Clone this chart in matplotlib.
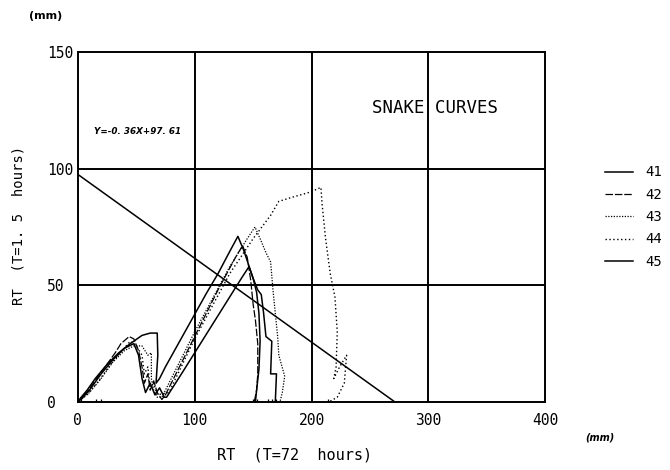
import numpy as np
import matplotlib.pyplot as plt
from matplotlib.lines import Line2D

# snake curves: RT(T=72h) vs RT(T=1.5h), both in mm
x41 = [0, 3, 8, 15, 25, 35, 45, 55, 62, 68, 68.5, 67, 70, 75, 80, 90, 100, 110, 120, 130, 137,
       142, 146, 150, 153, 155, 156, 155, 153, 152]
y41 = [0, 2, 5, 10, 16, 21, 25, 28.5, 29.5, 29.5, 20, 8, 10, 15, 19.5, 28.5, 37.5, 46.5, 55, 64.5, 71,
       65, 59, 53, 47, 38, 26, 14, 5, 0]

x42 = [0, 5, 12, 22, 32, 37, 44, 48, 52, 55, 57, 60, 62, 65, 68, 72, 75, 100, 120, 135, 141,
       145, 148, 150, 152, 154, 154, 153, 151]
y42 = [0, 2, 7, 14, 21, 25, 28, 27, 22, 15, 8, 12, 5, 9, 4, 1, 3, 28, 48, 62, 67,
       62, 52, 42, 35, 25, 12, 5, 0]

x43 = [0, 10, 20, 30, 40, 48, 55, 60, 63, 63, 65, 68, 72, 100, 130, 145, 151.6,
       156, 161, 165, 167, 169, 171, 172, 177, 175, 173]
y43 = [0, 4, 10, 17, 22, 24, 24, 20, 21, 10, 5, 2, 2, 30, 58, 70, 75,
       70, 64, 60, 48, 38, 28, 20, 11, 4, 0]

x44 = [0, 8, 18, 28, 38, 45, 50, 55, 57, 60, 62, 65, 68, 78, 100, 130, 150, 165, 172, 185, 199, 208,
       209, 212, 216, 220, 222, 221, 219, 224, 230, 228, 222, 215]
y44 = [0, 3, 9, 16, 22, 26, 24, 20, 12, 15, 6, 8, 3, 4, 27, 55, 70, 80, 86, 88, 90, 92,
       85, 70, 55, 45, 30, 15, 10, 15, 20, 8, 2, 0]

x45 = [0, 10, 20, 30, 40, 48, 52, 55, 58, 62, 66, 70, 74, 76, 90, 100, 120, 140, 146.5,
       150, 154, 157, 159, 161, 166, 165, 170, 169]
y45 = [0, 5, 12, 18, 23, 25, 20, 10, 4, 8, 3, 6, 2, 2, 13, 21, 37, 53, 58,
       53, 48, 46, 38, 28, 26, 12, 12, 0]

# ends of the measured sections, marked on the base line
end_marks = [3, 16, 20, 150, 153, 163, 166, 170, 214]

# regression of all points
slope, intercept = -0.36, 97.61

mono = 'DejaVu Sans Mono'

styles = {
    '41': dict(lw=1.1, ls='-'),
    '42': dict(lw=0.9, ls=(0, (6, 1.5))),
    '43': dict(lw=0.9, ls=(0, (1, 1.2))),
    '44': dict(lw=1.0, ls=(0, (1, 1.8))),
    '45': dict(lw=1.1, ls='-'),
}

fig = plt.figure(figsize=(6.7, 4.7), dpi=100)
ax = fig.add_axes([0.116, 0.145, 0.698, 0.744])

for name, xs, ys in [('41', x41, y41), ('42', x42, y42), ('43', x43, y43),
                     ('44', x44, y44), ('45', x45, y45)]:
    ax.plot(xs, ys, color='black', label=name, **styles[name])

ax.plot(end_marks, [0] * len(end_marks), ls='none', marker='|', ms=5, mew=0.9, color='black')

xr = np.array([0, -intercept / slope])
ax.plot(xr, slope * xr + intercept, color='black', lw=1.1)

for xv in [100, 200, 300]:
    ax.axvline(xv, color='black', lw=1.4)
for yv in [50, 100]:
    ax.axhline(yv, color='black', lw=1.4)

ax.set_xlim(0, 400)
ax.set_ylim(0, 150)
ax.set_xticks([0, 100, 200, 300, 400])
ax.set_yticks([0, 50, 100, 150])
ax.tick_params(length=0, labelsize=10.5)
ax.tick_params(axis='x', pad=8)
ax.tick_params(axis='y', pad=22)
for lab in ax.get_xticklabels() + ax.get_yticklabels():
    lab.set_family(mono)
for lab in ax.get_yticklabels():
    lab.set_horizontalalignment('left')
for sp in ax.spines.values():
    sp.set_linewidth(1.4)

ax.text(14, 115, 'Y=-0. 36X+97. 61', fontsize=6.3, style='italic', fontweight='bold')
ax.text(252, 124, 'SNAKE CURVES', fontsize=12.5, family=mono)

fig.text(0.027, 0.52, 'RT  (T=1. 5  hours)', rotation=90, family=mono, fontsize=10,
         ha='center', va='center')
fig.text(0.44, 0.032, 'RT  (T=72  hours)', family=mono, fontsize=11, ha='center', va='center')
fig.text(0.068, 0.967, '(mm)', fontsize=8, fontweight='bold', ha='center', va='center')
fig.text(0.895, 0.07, '(mm)', fontsize=7, style='italic', fontweight='bold', ha='center', va='center')

handles = [Line2D([], [], color='black', **styles[k]) for k in styles]
fig.legend(handles, list(styles), loc='upper left',
           bbox_to_anchor=(0.903, 0.648), frameon=False, prop={'family': mono, 'size': 10},
           handlelength=2.0, handletextpad=0.9, labelspacing=0.6, borderpad=0, borderaxespad=0)

fig.savefig('out.png', dpi=100)
